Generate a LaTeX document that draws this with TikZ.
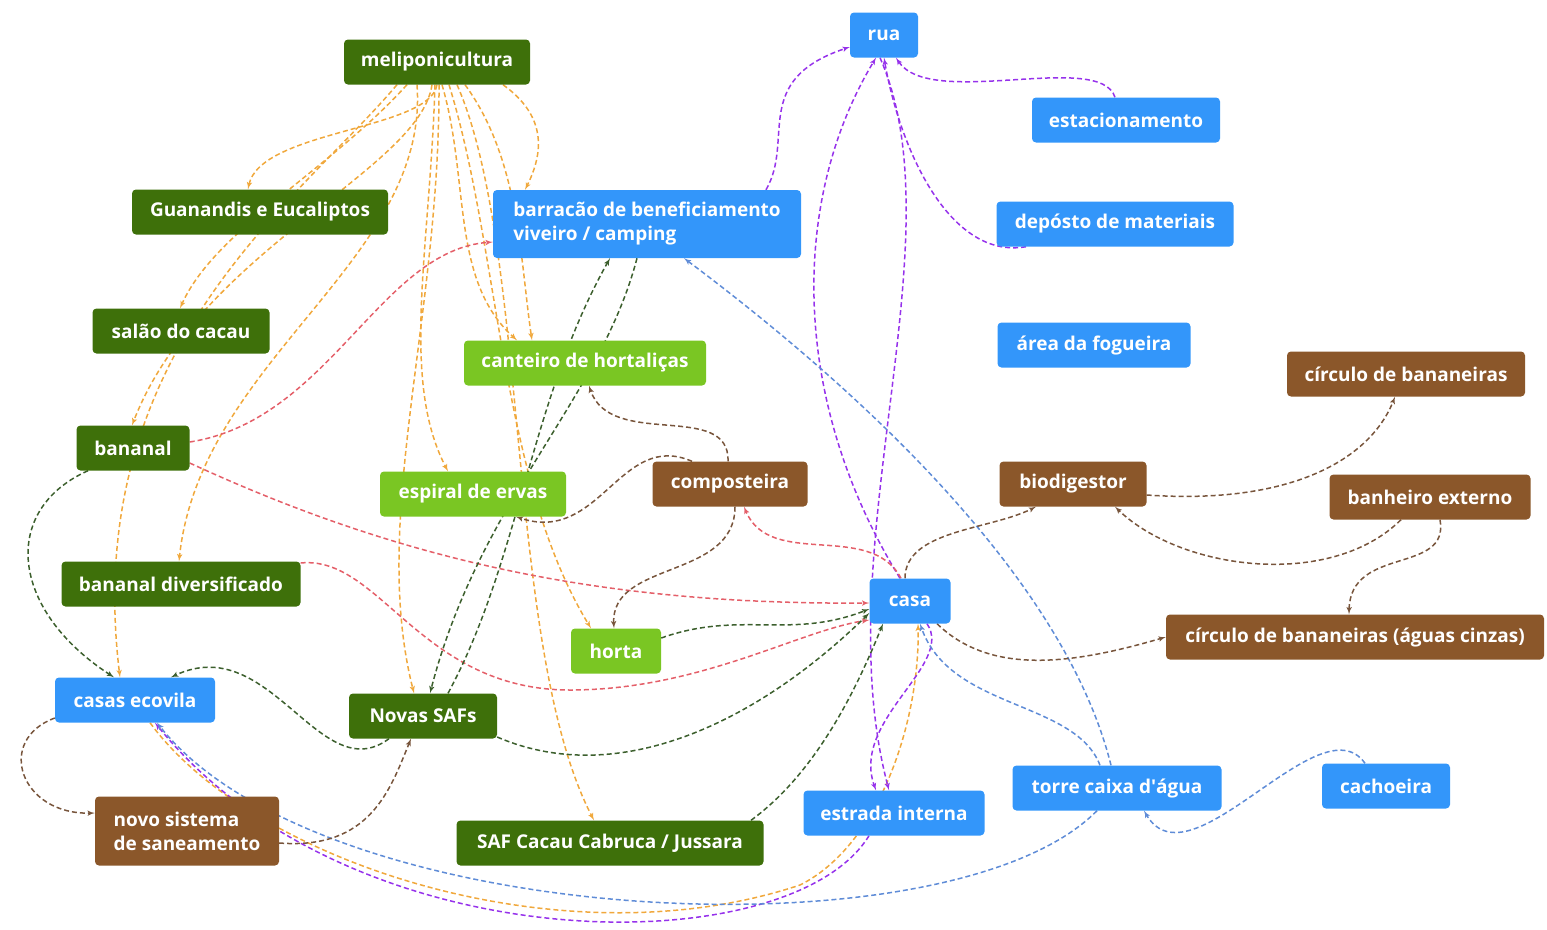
\documentclass[tikz,border=0pt]{standalone}
\usepackage{fontspec}
\setmainfont{Open Sans}
\usepackage{xcolor}
\usetikzlibrary{shapes,arrows}

\definecolor{dkgreen}{RGB}{62,112,10}
\definecolor{ltgreen}{RGB}{122,198,35}
\definecolor{skyblue}{RGB}{51,150,250}
\definecolor{soilbrown}{RGB}{139,87,42}
\definecolor{lnorange}{RGB}{240,168,60}
\definecolor{lnpurple}{RGB}{150,50,235}
\definecolor{lnblue}{RGB}{95,140,215}
\definecolor{lnred}{RGB}{228,95,105}
\definecolor{lngreen}{RGB}{60,95,45}
\definecolor{lnbrown}{RGB}{120,85,60}

\pgfdeclarelayer{edges}
\pgfsetlayers{edges,main}

\begin{document}
\begin{tikzpicture}[x=1pt, y=-1pt,
    block/.style ={rectangle, rounded corners=4pt, inner sep=0pt,
      text=white, font=\bfseries\fontsize{19}{24}\selectfont,
      minimum height=45pt},
    block_dg/.style ={block, fill=dkgreen},
    block_lg/.style ={block, fill=ltgreen},
    block_bl/.style ={block, fill=skyblue},
    block_br/.style ={block, fill=soilbrown},
    line/.style ={draw, line width=1.5pt, dash pattern=on 5pt off 3pt,
      -latex', shorten >=0pt}]
    \useasboundingbox (0,0) rectangle (1547,929);
    % plants - dark green
    \node [block_dg, minimum width=186pt] (meli) at (437,62) {meliponicultura};
    \node [block_dg, minimum width=256pt] (guan) at (260,212) {Guanandis e Eucaliptos};
    \node [block_dg, minimum width=177pt] (salao) at (181,331) {salão do cacau};
    \node [block_dg, minimum width=113pt] (banl) at (133,448) {bananal};
    \node [block_dg, minimum width=239pt] (bdiv) at (181,584) {bananal diversificado};
    \node [block_dg, minimum width=148pt] (nsaf) at (423,716) {Novas SAFs};
    \node [block_dg, minimum width=307pt] (safc) at (610,843) {SAF Cacau Cabruca / Jussara};
    % gardens - light green
    \node [block_lg, minimum width=242pt] (cant) at (585,363) {canteiro de hortaliças};
    \node [block_lg, minimum width=186pt] (espi) at (473,494) {espiral de ervas};
    \node [block_lg, minimum width=90pt] (horta) at (616,651) {horta};
    % buildings and ways - blue
    \node [block_bl, minimum width=308pt, minimum height=68pt, align=left]
      (barr) at (647,224) {barracão de beneficiamento\\viveiro / camping};
    \node [block_bl, minimum width=68pt] (rua) at (884,35) {rua};
    \node [block_bl, minimum width=188pt] (estac) at (1126,120) {estacionamento};
    \node [block_bl, minimum width=237pt] (depo) at (1115,224) {depósto de materiais};
    \node [block_bl, minimum width=193pt] (fogu) at (1094,345) {área da fogueira};
    \node [block_bl, minimum width=81pt] (casa) at (910,601) {casa};
    \node [block_bl, minimum width=160pt] (ecov) at (135,700) {casas ecovila};
    \node [block_bl, minimum width=181pt] (estr) at (894,813) {estrada interna};
    \node [block_bl, minimum width=209pt] (torre) at (1117,788) {torre caixa d{\textquotesingle}água};
    \node [block_bl, minimum width=128pt] (cach) at (1386,786) {cachoeira};
    % sanitation - brown
    \node [block_br, minimum width=155pt] (comp) at (730,484) {composteira};
    \node [block_br, minimum width=147pt] (biod) at (1073,484) {biodigestor};
    \node [block_br, minimum width=238pt] (circ) at (1406,374) {círculo de bananeiras};
    \node [block_br, minimum width=201pt] (banh) at (1430,497) {banheiro externo};
    \node [block_br, minimum width=378pt] (circag) at (1355,637) {círculo de bananeiras (águas cinzas)};
    \node [block_br, minimum width=184pt, minimum height=69pt, align=left]
      (sane) at (187,831) {novo sistema\\de saneamento};
    % connecting nodes with paths, under the boxes
    \begin{pgfonlayer}{edges}
    \begin{scope}[every path/.style=line]
      % meliponicultura
      \path [lnorange] (meli.south) .. controls (430,130) and (260,130) .. ([xshift=-12pt]guan.north);
      \path [lnorange] ([xshift=-30pt]meli.south) .. controls (330,170) and (215,230) .. ([xshift=-1pt]salao.north);
      \path [lnorange] ([xshift=-5pt]meli.south) .. controls (420,170) and (200,250) .. ([xshift=-1pt]banl.north);
      \path [lnorange] ([xshift=-20pt]meli.south) .. controls (430,260) and (200,360) .. ([xshift=-2pt]bdiv.north);
      \path [lnorange] ([xshift=-40pt]meli.south) .. controls (300,200) and (80,350) .. ([xshift=-15pt]ecov.north);
      \path [lnorange] ([xshift=66pt]meli.south) .. controls (545,115) and (545,150) .. ([xshift=-122pt]barr.north);
      \path [lnorange] ([xshift=5pt]meli.south) .. controls (470,180) and (450,280) .. ([xshift=-68pt]cant.north);
      \path [lnorange] ([xshift=28pt]meli.south) .. controls (520,160) and (520,260) .. ([xshift=-53pt]cant.north);
      \path [lnorange] ([xshift=-2pt]meli.south) .. controls (430,250) and (400,380) .. ([xshift=-25pt]espi.north);
      \path [lnorange] ([xshift=2pt]meli.south) .. controls (440,320) and (370,520) .. ([xshift=-9pt]nsaf.north);
      \path [lnorange] ([xshift=12pt]meli.south) .. controls (500,250) and (500,480) .. ([xshift=-25pt]horta.north);
      \path [lnorange] ([xshift=20pt]meli.south) .. controls (530,250) and (505,650) .. ([xshift=-16pt]safc.north);
      \path [lnorange] ([xshift=15pt]ecov.south) .. controls (250,860) and (560,965) .. (800,885)
        .. controls (880,845) and (920,720) .. ([xshift=8pt]casa.south);
      % rua
      \path [lnpurple] ([xshift=119pt]barr.north) .. controls (795,140) and (750,80) .. ([yshift=-12pt]rua.west);
      \path [lnpurple] ([xshift=-11pt]estac.north) .. controls (1100,50) and (930,110) .. ([xshift=12pt]rua.south);
      \path [lnpurple] ([xshift=-89pt]depo.south) .. controls (950,260) and (900,150) .. (rua.south);
      \path [lnpurple] ([xshift=-10pt]casa.north) .. controls (790,400) and (790,200) .. ([xshift=-8pt]rua.south);
      \path [lnpurple] ([xshift=-4pt]rua.south) .. controls (960,240) and (825,550) .. ([xshift=-5pt]estr.north);
      \path [lnpurple] ([xshift=17pt]casa.south) .. controls (955,665) and (850,720) .. ([xshift=-18pt]estr.north);
      \path [lnpurple] ([xshift=-25pt]estr.south) .. controls (790,965) and (350,965) .. ([xshift=20pt]ecov.south);
      % agua
      \path [lnblue] ([xshift=-6pt]torre.north) .. controls (1070,600) and (900,420) .. ([xshift=37pt]barr.south);
      \path [lnblue] ([xshift=-17pt]torre.north) .. controls (1075,700) and (950,710) .. ([xshift=10pt]casa.south);
      \path [lnblue] ([xshift=-21pt]cach.north) .. controls (1320,700) and (1190,890) .. ([xshift=27pt]torre.south);
      \path [lnblue] ([xshift=-20pt]torre.south) .. controls (950,960) and (320,930) .. ([xshift=22pt]ecov.south);
      % bananal
      \path [lnred] ([yshift=6pt]banl.east) .. controls (330,420) and (380,250) .. ([yshift=-18pt]barr.west);
      \path [lnred] ([yshift=-15pt]banl.east) .. controls (400,560) and (600,605) .. ([yshift=-2pt]casa.west);
      \path [lnred] ([yshift=21pt]bdiv.east) .. controls (380,555) and (420,690) .. (570,690)
        .. controls (700,690) and (800,630) .. ([yshift=-19pt]casa.west);
      \path [lnred] ([xshift=-9pt]casa.north) .. controls (870,520) and (770,570) .. ([xshift=14pt]comp.south);
      % plantios
      \path [lngreen] ([xshift=-45pt]banl.south) .. controls (0,510) and (10,610) .. ([xshift=-21pt]ecov.north);
      \path [lngreen] ([xshift=-34pt]nsaf.south) .. controls (320,790) and (270,630) .. ([xshift=36pt]ecov.north);
      \path [lngreen] ([yshift=-21pt]nsaf.east) .. controls (620,790) and (760,720) .. ([yshift=-12pt]casa.west);
      \path [lngreen] ([yshift=13pt]horta.east) .. controls (740,610) and (790,640) .. ([yshift=-8pt]casa.west);
      \path [lngreen] ([xshift=141pt]safc.north) .. controls (820,770) and (860,680) .. ([xshift=-27pt]casa.south);
      \path [lngreen] ([xshift=25pt]nsaf.north) .. controls (520,560) and (530,400) .. ([xshift=-37pt]barr.south);
      \path [lngreen] ([xshift=-10pt]barr.south) .. controls (600,400) and (480,500) .. ([xshift=7pt]nsaf.north);
      % residuos
      \path [lnbrown] ([xshift=-2pt]comp.north) .. controls (730,400) and (610,450) .. ([xshift=4pt]cant.south);
      \path [lnbrown] ([xshift=-38pt]comp.north) .. controls (620,430) and (600,545) .. ([xshift=43pt]espi.south);
      \path [lnbrown] ([xshift=5pt]comp.south) .. controls (735,580) and (610,560) .. ([xshift=-2pt]horta.north);
      \path [lnbrown] ([xshift=-5pt]casa.north) .. controls (905,530) and (990,530) .. ([xshift=-37pt]biod.south);
      \path [lnbrown] ([xshift=27pt]casa.south) .. controls (990,675) and (1070,665) .. (circag.west);
      \path [lnbrown] ([yshift=-11pt]biod.east) .. controls (1290,505) and (1370,460) .. ([xshift=-11pt]circ.south);
      \path [lnbrown] ([xshift=-29pt]banh.south) .. controls (1330,590) and (1180,570) .. ([xshift=42pt]biod.south);
      \path [lnbrown] ([xshift=10pt]banh.south) .. controls (1450,575) and (1350,545) .. ([xshift=-6pt]circag.north);
      \path [lnbrown] ([yshift=-18pt]ecov.west) .. controls (-5,740) and (20,815) .. ([yshift=18pt]sane.west);
      \path [lnbrown] ([yshift=-12pt]sane.east) .. controls (370,850) and (390,790) .. ([xshift=-12pt]nsaf.south);
    \end{scope}
    \end{pgfonlayer}
\end{tikzpicture}
\end{document}
